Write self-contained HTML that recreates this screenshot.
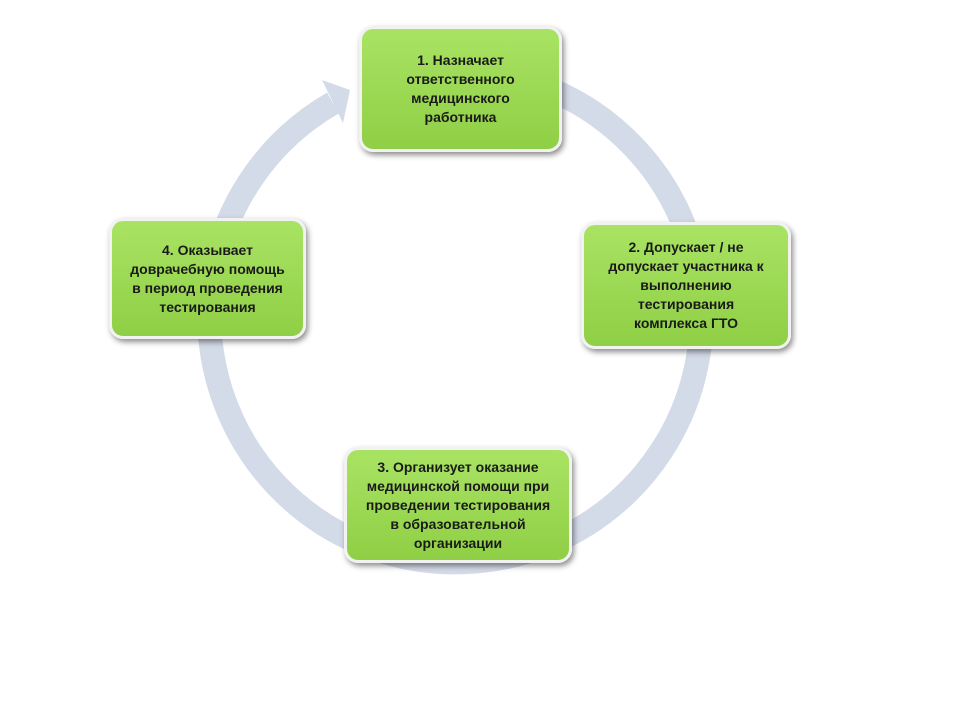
<!DOCTYPE html>
<html><head><meta charset="utf-8"><style>
body{margin:0;width:962px;height:722px;background:#fff;position:relative;overflow:hidden;font-family:"Liberation Sans","DejaVu Sans",sans-serif}
.b{position:absolute;box-sizing:border-box;border:3px solid #f2f2f2;border-radius:14px;background:linear-gradient(#a9e363,#8fcf45);box-shadow:2px 3px 6px rgba(0,0,0,.45);display:flex;align-items:center;justify-content:center;text-align:center;font-weight:bold;font-size:14px;line-height:19px;color:#1a1a1a}
</style></head><body>
<svg width="962" height="722" style="position:absolute;left:0;top:0">
<path d="M333 103 A246 246 0 1 0 539 85" fill="none" stroke="#d3dae8" stroke-width="24"/>
<polygon points="350,90 343,123 322,80" fill="#d3dae8"/>
</svg>
<div class="b" style="left:359px;top:26px;width:203px;height:126px">1. Назначает<br>ответственного<br>медицинского<br>работника</div>
<div class="b" style="left:581px;top:222px;width:210px;height:127px">2. Допускает / не<br>допускает участника к<br>выполнению<br>тестирования<br>комплекса ГТО</div>
<div class="b" style="left:344px;top:447px;width:228px;height:116px">3. Организует оказание<br>медицинской помощи при<br>проведении тестирования<br>в образовательной<br>организации</div>
<div class="b" style="left:109px;top:218px;width:197px;height:121px">4. Оказывает<br>доврачебную помощь<br>в период проведения<br>тестирования</div>
</body></html>
